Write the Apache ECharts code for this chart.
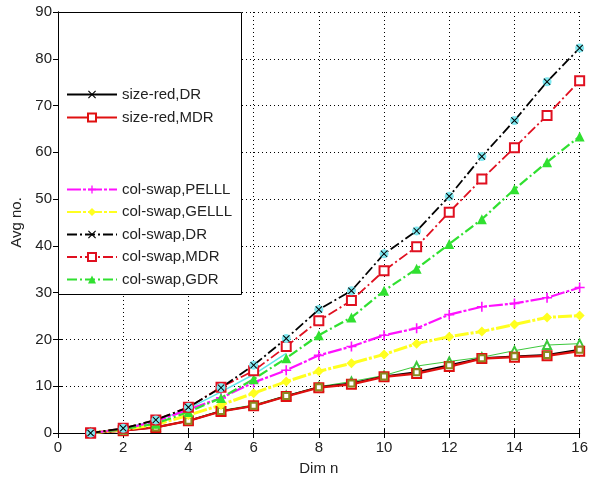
<!DOCTYPE html>
<html>
<head>
<meta charset="utf-8">
<script src="https://cdn.jsdelivr.net/npm/echarts@6/dist/echarts.min.js"></script>
<style>
  html, body { margin: 0; padding: 0; background: #fff; }
  #chart { width: 591px; height: 481px; }
</style>
</head>
<body>
<div id="chart"></div>
<script>
// dimension n
const dims = [1, 2, 3, 4, 5, 6, 7, 8, 9, 10, 11, 12, 13, 14, 15, 16]
const xTicks = [0, 2, 4, 6, 8, 10, 12, 14, 16]
const yTicks = [0, 10, 20, 30, 40, 50, 60, 70, 80, 90]

// size-reduction series
const sizeRedDR = [0, 0.5, 1.2, 2.6, 4.7, 5.8, 7.9, 9.8, 10.6, 12.1, 13.0, 14.5, 16.0, 16.4, 16.7, 17.8]
const sizeRedMDR = [0, 0.5, 1.2, 2.6, 4.6, 5.8, 7.8, 9.7, 10.4, 12.0, 12.7, 14.2, 15.9, 16.2, 16.5, 17.5]
// unlabeled series (legend text is blank in the original)
const sizeRedGDR = [0, 0.6, 1.3, 2.7, 4.8, 6.0, 8.0, 9.9, 11.0, 12.3, 14.3, 15.3, 16.2, 17.6, 18.8, 19.1]
const cyanPart = [0, 1.0, 2.6, 5.2, 8.8, 12.5, 17.0, null, null, null, null, null, null, null, null, null]

// column-swap series
const colSwapPELLL = [0, 0.8, 2.5, 5.0, 7.5, 10.8, 13.4, 16.6, 18.5, 20.9, 22.4, 25.3, 27.0, 27.7, 28.9, 31.1]
const colSwapGELLL = [0, 0.7, 1.8, 3.8, 6.0, 8.5, 11.0, 13.2, 14.9, 16.8, 19.1, 20.6, 21.7, 23.2, 24.7, 25.1]
const colSwapDR = [0, 1.0, 2.8, 5.5, 9.7, 14.5, 20.2, 26.4, 30.4, 38.3, 43.2, 50.6, 59.1, 66.8, 75.1, 82.3]
const colSwapMDR = [0, 1.0, 2.8, 5.5, 9.8, 13.3, 18.5, 24.0, 28.3, 34.7, 39.8, 47.2, 54.3, 61.0, 67.9, 75.3]
const colSwapGDR = [0, 0.8, 2.0, 4.5, 7.5, 11.5, 16.0, 20.9, 24.7, 30.4, 35.1, 40.4, 45.7, 52.1, 57.9, 63.4]

const pts = ys => dims.map((d, i) => [d, ys[i]])

const XMARK = 'path://M0,1L1,0L5,4L9,0L10,1L6,5L10,9L9,10L5,6L1,10L0,9L4,5Z'
const PLUS = 'path://M4.2,0H5.8V4.2H10V5.8H5.8V10H4.2V5.8H0V4.2H4.2Z'
const DASHDOT = [10, 3, 2, 3]
const FONT = '"Liberation Sans", Arial, sans-serif'

const chart = echarts.init(document.getElementById('chart'))

const grid = { left: 58, top: 12, right: 11, bottom: 46 }

const axisCommon = {
  type: 'value',
  axisLine: { lineStyle: { color: '#000', width: 1 } },
  axisTick: { inside: true, length: 5, lineStyle: { color: '#000' } },
  axisLabel: { color: '#222', fontSize: 15, fontFamily: FONT },
  splitLine: { show: false }
}

function line(name, ys, color, opts) {
  return Object.assign({
    name,
    type: 'line',
    data: pts(ys),
    showSymbol: true,
    symbolSize: 8,
    lineStyle: { color, width: 1.8 },
    itemStyle: { color },
    animation: false,
    connectNulls: false
  }, opts)
}

const legendText = { color: '#222', fontSize: 15, fontFamily: FONT }

chart.setOption({
  animation: false,
  grid,
  xAxis: [
    Object.assign({}, axisCommon, {
      min: 0, max: 16, interval: 2,
      name: 'Dim n', nameLocation: 'middle', nameGap: 28,
      nameTextStyle: { color: '#222', fontSize: 15, fontFamily: FONT },
      axisLabel: Object.assign({}, axisCommon.axisLabel, { margin: 7 }),
      splitLine: { show: true, lineStyle: { color: '#000', type: [1, 3], width: 1 } }
    }),
    Object.assign({}, axisCommon, {
      min: 0, max: 16, interval: 2, position: 'top',
      axisLabel: { show: false }
    })
  ],
  yAxis: [
    Object.assign({}, axisCommon, {
      min: 0, max: 90, interval: 10,
      name: 'Avg no.', nameLocation: 'middle', nameGap: 31,
      nameTextStyle: { color: '#222', fontSize: 15, fontFamily: FONT },
      axisLabel: Object.assign({}, axisCommon.axisLabel, { margin: 6 }),
      splitLine: { show: true, lineStyle: { color: '#000', type: [1, 3], width: 1 } }
    }),
    Object.assign({}, axisCommon, {
      min: 0, max: 90, interval: 10, position: 'right',
      axisLabel: { show: false }
    })
  ],
  graphic: [{
    type: 'rect',
    left: 58, top: 12, z: 50,
    shape: { width: 183, height: 282 },
    style: { fill: '#fff', stroke: '#000', lineWidth: 1 }
  }],
  legend: [
    {
      data: ['size-red,DR', 'size-red,MDR'],
      orient: 'vertical', left: 66, top: 87, padding: 0,
      itemWidth: 50, itemHeight: 10, itemGap: 8, z: 60,
      textStyle: legendText
    },
    {
      data: ['col-swap,PELLL', 'col-swap,GELLL', 'col-swap,DR', 'col-swap,MDR', 'col-swap,GDR'],
      orient: 'vertical', left: 66, top: 182, padding: 0,
      itemWidth: 50, itemHeight: 10, itemGap: 7.5, z: 60,
      textStyle: legendText
    }
  ],
  series: [
    line('cyan', cyanPart, '#5fe8e8', { symbol: 'none', lineStyle: { color: '#5fe8e8', width: 1.5 } }),
    line('size-red,GDR', sizeRedGDR, '#3cc83c', {
      symbol: 'emptyTriangle', symbolSize: 8,
      lineStyle: { color: '#3cc83c', width: 1 },
      itemStyle: { color: '#3cc83c', borderWidth: 1.5 }
    }),
    line('size-red,DR', sizeRedDR, '#000', {
      symbol: XMARK, symbolSize: 7,
      lineStyle: { color: '#000', width: 1.8 }
    }),
    line('size-red,MDR', sizeRedMDR, '#e01010', {
      symbol: 'emptyRect', symbolSize: 9,
      lineStyle: { color: '#e01010', width: 2.2 },
      itemStyle: { color: '#e01010', borderWidth: 2 }
    }),
    line('size-red,GELLL', sizeRedDR, '#8a8a20', {
      symbol: 'emptyRect', symbolSize: 6,
      lineStyle: { width: 0, opacity: 0 },
      itemStyle: { color: '#8a8a20', borderWidth: 1.5 }
    }),
    line('col-swap,GELLL', colSwapGELLL, '#ffff20', {
      symbol: 'diamond', symbolSize: 10,
      lineStyle: { color: '#ffff20', width: 3, type: [14, 2, 3, 2] }
    }),
    line('col-swap,PELLL', colSwapPELLL, '#ff10ff', {
      symbol: PLUS, symbolSize: 10,
      lineStyle: { color: '#ff10ff', width: 2.2, type: [14, 2, 3, 2] }
    }),
    line('col-swap,GDR', colSwapGDR, '#30e030', {
      symbol: 'triangle', symbolSize: 10,
      lineStyle: { color: '#30e030', width: 2.2, type: DASHDOT }
    }),
    line('col-swap,MDR', colSwapMDR, '#e01020', {
      symbol: 'emptyRect', symbolSize: 9,
      lineStyle: { color: '#e01020', width: 1.8, type: DASHDOT },
      itemStyle: { color: '#e01020', borderWidth: 2.5 }
    }),
    line('cyan halo', colSwapDR, '#7fe8f0', {
      symbol: 'circle', symbolSize: 9,
      lineStyle: { width: 0, opacity: 0 }
    }),
    line('col-swap,DR', colSwapDR, '#000', {
      symbol: XMARK, symbolSize: 7,
      lineStyle: { color: '#000', width: 1.8, type: DASHDOT }
    })
  ]
})
</script>
</body>
</html>
